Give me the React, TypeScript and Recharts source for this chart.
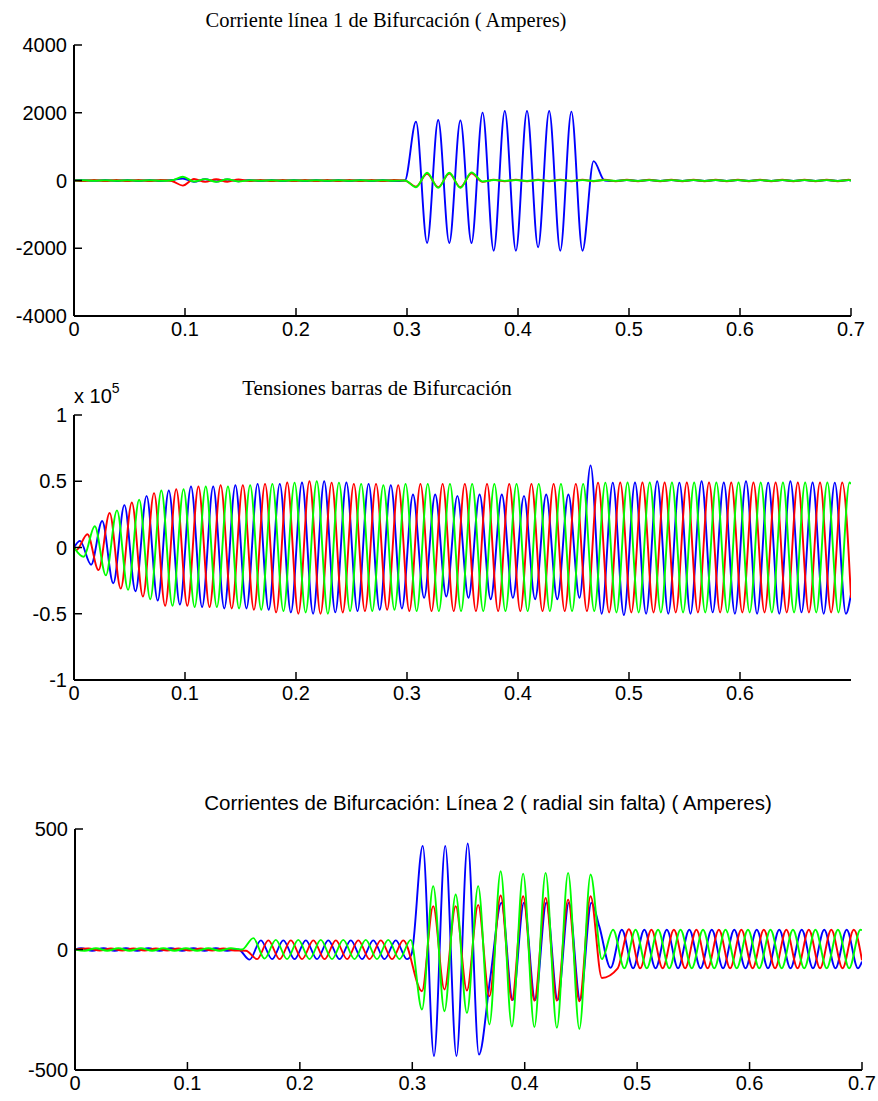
import React from 'react';
import { LineChart, Line, XAxis, YAxis } from 'recharts';

// half period of the 50 Hz waveforms (s): values below are the successive extrema
const HALF = 0.01;

// ---------- Plot 1 : Corriente línea 1 (A) ----------
const I1_T0 = 0.0081;
const i1Blue = [
  12, -12, 14, -14, 15, -15, 15, -15, 15,
  60,
  -40, 35, -30, 30, -25,
  15, -15, 15, -15, 15, -15, 15, -15, 15, -15, 15, -15, 15, -15,
  0,
  1737, -1845, 1786, -1845, 1776, -1845, 2003, -2072, 2052, -2072, 2052, -1973, 2052, -2072, 2033, -2072, 572,
  0, -15, 15, -15, 15, -15, 15, -15, 15, -15, 15, -15, 15, -15, 15, -15, 15, -15, 15, -15, 15, -15, 15,
];
const i1Red = [
  -15, 15, -15, 15, -15, 15, -15, 15, -15,
  -150,
  45, -40, 35, -35, 30,
  -15, 15, -15, 15, -15, 15, -15, 15, -15, 15, -15, 15, -15, 15,
  0,
  -180, 200, -195, 205, -200, 215, -40, 20,
  -20, 20, -20, 20, -20, 20, -20, 20, -20, 20, -20, 20, -20, 20, -20, 20,
  -20, 20, -20, 20, -20, 20, -20, 20, -20, 20, -20, 20, -20, 20, -20, 20,
];
const i1Green = [
  8, -8, 8, -8, 8, -8, 8, -8, 8,
  110,
  -30, 40, -40, 35, -30,
  8, -8, 8, -8, 8, -8, 8, -8, 8, -8, 8, -8, 8, -8,
  0,
  -200, 228, -218, 230, -218, 240, -30, 15,
  -10, 10, -10, 10, -10, 10, -10, 10, -10, 10, -10, 10, -10, 10, -10, 10,
  -10, 10, -10, 10, -10, 10, -10, 10, -10, 10, -10, 10, -10, 10, -10, 10,
];
const i1Ends = [0, 0, 0];
const i1XTicks = [0, 0.1, 0.2, 0.3, 0.4, 0.5, 0.6, 0.7];
const i1YTicks = [-4000, -2000, 0, 2000, 4000];

// ---------- Plot 2 : Tensiones (x 10^5 V) ----------
const V_BLUE_T0 = 0.0054;
const vBlue = [
  0.05, -0.13, 0.2, -0.27, 0.32, -0.33, 0.39, -0.4, 0.43, -0.43,
  0.46, -0.45, 0.46, -0.46, 0.47, -0.46, 0.48, -0.47, 0.48, -0.49,
  0.49, -0.5, 0.5, -0.49, 0.49, -0.48, 0.48, -0.47, 0.47, -0.46,
  0.4, -0.38, 0.4, -0.37, 0.39, -0.38, 0.4, -0.39, 0.4, -0.38,
  0.39, -0.39, 0.4, -0.39, 0.4, -0.38, 0.62, -0.5, 0.49, -0.51,
  0.49, -0.5, 0.5, -0.5, 0.49, -0.5, 0.5, -0.49, 0.49, -0.5,
  0.5, -0.5, 0.49, -0.5, 0.5, -0.49, 0.49, -0.5, 0.49, -0.5,
];
const V_RED_T0 = 0.0021;
const vRed = [
  -0.02, 0.1, -0.17, 0.26, -0.31, 0.34, -0.37, 0.41, -0.44, 0.44,
  -0.44, 0.46, -0.45, 0.47, -0.46, 0.47, -0.47, 0.48, -0.49, 0.49,
  -0.5, 0.5, -0.5, 0.49, -0.49, 0.48, -0.48, 0.48, -0.47, 0.47,
  -0.48, 0.48, -0.48, 0.48, -0.48, 0.48, -0.48, 0.48, -0.48, 0.48,
  -0.48, 0.48, -0.48, 0.48, -0.48, 0.48, -0.48, 0.49, -0.49, 0.49,
  -0.49, 0.49, -0.49, 0.49, -0.49, 0.49, -0.49, 0.49, -0.49, 0.49,
  -0.49, 0.49, -0.49, 0.49, -0.49, 0.49, -0.49, 0.49, -0.49, 0.49,
];
const V_GREEN_T0 = 0.0087;
const vGreen = [
  -0.07, 0.16, -0.21, 0.28, -0.32, 0.36, -0.39, 0.43, -0.44, 0.44,
  -0.45, 0.46, -0.45, 0.46, -0.46, 0.47, -0.47, 0.48, -0.48, 0.49,
  -0.49, 0.5, -0.5, 0.49, -0.48, 0.48, -0.48, 0.47, -0.47, 0.48,
  -0.48, 0.48, -0.48, 0.48, -0.48, 0.48, -0.48, 0.48, -0.48, 0.48,
  -0.48, 0.48, -0.48, 0.48, -0.48, 0.48, -0.48, 0.49, -0.49, 0.49,
  -0.49, 0.49, -0.49, 0.49, -0.49, 0.49, -0.49, 0.49, -0.49, 0.49,
  -0.49, 0.49, -0.49, 0.49, -0.49, 0.49, -0.49, 0.49, -0.49, 0.49,
];
const vEnds = [-0.35, -0.38, 0.48];
const vXTicks = [0, 0.1, 0.2, 0.3, 0.4, 0.5, 0.6];
const vYTicks = [-1, -0.5, 0, 0.5, 1];

// ---------- Plot 3 : Corrientes Línea 2 (A) ----------
const I3_GREEN_T0 = 0.0086;
const i3Green = [
  -5, 5, -5, 5, -5, 5, -5, 5, -5, 5, -5, 5, -5, 5,
  0,
  47, -38, 40, -40, 40, -40, 40, -40, 40, -40, 40, -40, 40, -40, 40,
  -249, 263, -256, 228, -263, 263, -311, 325, -320, 315, -322, 318, -325, 318, -330, 311,
  -40,
  82, -78, 82, -78, 82, -78, 82, -78, 82, -78, 82, -78, 82, -78, 82, -78, 82, -78, 82, -78, 82, -78, 82,
];
const I3_BLUE_T0 = [0.0053, 0.2993, 0.4664];
const i3BluePre = [
  5, -5, 5, -5, 5, -5, 5, -5, 5, -5, 5, -5, 5, -5,
  0, -42,
  38, -40, 38, -40, 38, -40, 38, -40, 38, -40, 38, -40, 38, -40,
];
const i3BlueFault = [-20, 430, -442, 430, -442, 440, -436, -120, 194, -210, 194, -210, 195, -210, 194, -210, 194];
const i3BluePost = [95, -76, 82, -78, 82, -78, 82, -78, 82, -78, 82, -78, 82, -78, 82, -78, 82, -78, 82, -78, 82, -78, 82, -78];
const I3_RED_T0 = [0.012, 0.3086, 0.4827];
const i3RedPre = [
  4, -4, 4, -4, 4, -4, 4, -4, 4, -4, 4, -4, 4, -4,
  -5, -40,
  38, -40, 38, -40, 38, -40, 38, -40, 38, -40, 38, -40, 38,
];
const i3RedFault = [-173, 180, -166, 180, -170, 185, -194, 224, -210, 221, -212, 214, -212, 207, -215, 221, -118];
const i3RedPost = [-78, 84, -78, 82, -78, 82, -78, 82, -78, 82, -78, 82, -78, 82, -78, 82, -78, 82, -78, 82, -78, 82];
const i3Ends = [-50, -45, 80];
const i3XTicks = [0, 0.1, 0.2, 0.3, 0.4, 0.5, 0.6, 0.7];
const i3YTicks = [-500, 0, 500];

// ---------- helpers ----------
type Pt = { t: number; v: number };
const seg = (t0: number, vals: number[]): Pt[] =>
  vals.map((v, i) => ({ t: Math.round((t0 + i * HALF) * 10000) / 10000, v }));
const build = (parts: Pt[][], end: number): Pt[] => [{ t: 0, v: 0 }, ...parts.flat(), { t: 0.7, v: end }];

const BLUE = '#0000ff';
const RED = '#ff0000';
const GREEN = '#00ff00';

const p1Series = [
  { color: BLUE, data: build([seg(I1_T0, i1Blue)], i1Ends[0]) },
  { color: RED, data: build([seg(I1_T0, i1Red)], i1Ends[1]) },
  { color: GREEN, data: build([seg(I1_T0, i1Green)], i1Ends[2]) },
];
const p2Series = [
  { color: BLUE, data: build([seg(V_BLUE_T0, vBlue)], vEnds[0]) },
  { color: RED, data: build([seg(V_RED_T0, vRed)], vEnds[1]) },
  { color: GREEN, data: build([seg(V_GREEN_T0, vGreen)], vEnds[2]) },
];
const p3Series = [
  {
    color: BLUE,
    data: build([seg(I3_BLUE_T0[0], i3BluePre), seg(I3_BLUE_T0[1], i3BlueFault), seg(I3_BLUE_T0[2], i3BluePost)], i3Ends[0]),
  },
  {
    color: RED,
    data: build([seg(I3_RED_T0[0], i3RedPre), seg(I3_RED_T0[1], i3RedFault), seg(I3_RED_T0[2], i3RedPost)], i3Ends[1]),
  },
  { color: GREEN, data: build([seg(I3_GREEN_T0, i3Green)], i3Ends[2]) },
];

const SANS = "'Liberation Sans', Arial, Helvetica, sans-serif";
const SERIF = "'Liberation Serif', 'Times New Roman', serif";
const tickStyle = { fontFamily: SANS, fontSize: 20, fill: '#000' };
const axisLine = { stroke: '#000', strokeWidth: 2 };
const tickLine = { stroke: '#000', strokeWidth: 1.5 };
const TICK = 8;

type PanelProps = {
  top: number;
  height: number;
  plotTop: number;
  plotBottom: number;
  plotLeft: number;
  plotRight: number;
  yDomain: [number, number];
  yTicks: number[];
  xTicks: number[];
  series: { color: string; data: Pt[] }[];
};

function Panel(p: PanelProps) {
  const xH = 30;
  const margin = {
    top: p.plotTop - p.top,
    bottom: p.height - xH - (p.plotBottom - p.top),
    left: 0,
    right: 878 - p.plotRight,
  };
  return (
    <div style={{ position: 'absolute', left: 0, top: p.top }}>
      <LineChart width={878} height={p.height} margin={margin}>
        <XAxis
          xAxisId="b"
          dataKey="t"
          type="number"
          domain={[0, 0.7]}
          ticks={p.xTicks}
          interval={0}
          allowDataOverflow
          height={xH}
          tickSize={-TICK}
          tickMargin={TICK + 6}
          axisLine={axisLine}
          tickLine={tickLine}
          tick={tickStyle}
        />
        <XAxis
          xAxisId="t"
          orientation="top"
          dataKey="t"
          type="number"
          domain={[0, 0.7]}
          ticks={p.xTicks}
          interval={0}
          height={0}
          tickSize={-TICK}
          axisLine={axisLine}
          tickLine={tickLine}
          tick={false}
        />
        <YAxis
          yAxisId="l"
          type="number"
          domain={p.yDomain}
          ticks={p.yTicks}
          interval={0}
          allowDataOverflow
          width={p.plotLeft}
          tickSize={-TICK}
          tickMargin={TICK + 7}
          axisLine={axisLine}
          tickLine={tickLine}
          tick={tickStyle}
        />
        <YAxis
          yAxisId="r"
          orientation="right"
          type="number"
          domain={p.yDomain}
          ticks={p.yTicks}
          interval={0}
          width={0}
          tickSize={-TICK}
          axisLine={axisLine}
          tickLine={tickLine}
          tick={false}
        />
        {p.series.map((s, i) => (
          <Line
            key={i}
            xAxisId="b"
            yAxisId="l"
            data={s.data}
            dataKey="v"
            type="monotone"
            stroke={s.color}
            strokeWidth={1.9}
            dot={false}
            activeDot={false}
            isAnimationActive={false}
          />
        ))}
      </LineChart>
    </div>
  );
}

const Title = ({ x, y, text, font, size }: { x: number; y: number; text: string; font: string; size: number }) => (
  <div
    style={{
      position: 'absolute',
      left: x,
      top: y,
      transform: 'translate(-50%, -50%)',
      whiteSpace: 'nowrap',
      fontFamily: font,
      fontSize: size,
      color: '#000',
      lineHeight: 1,
    }}
  >
    {text}
  </div>
);

export default function App() {
  return (
    <div style={{ position: 'relative', width: 878, height: 1101, background: '#fff', overflow: 'hidden' }}>
      <style>{'body{margin:0;background:#fff}'}</style>
      <Panel
        top={0}
        height={350}
        plotTop={45}
        plotBottom={316}
        plotLeft={74}
        plotRight={851}
        yDomain={[-4000, 4000]}
        yTicks={i1YTicks}
        xTicks={i1XTicks}
        series={p1Series}
      />
      <Panel
        top={360}
        height={354}
        plotTop={415}
        plotBottom={680}
        plotLeft={74}
        plotRight={851}
        yDomain={[-1, 1]}
        yTicks={vYTicks}
        xTicks={vXTicks}
        series={p2Series}
      />
      <Panel
        top={790}
        height={311}
        plotTop={829}
        plotBottom={1070}
        plotLeft={75}
        plotRight={862}
        yDomain={[-500, 500]}
        yTicks={i3YTicks}
        xTicks={i3XTicks}
        series={p3Series}
      />
      <Title x={386} y={20} text="Corriente línea 1 de Bifurcación ( Amperes)" font={SERIF} size={20.5} />
      <Title x={377} y={388} text="Tensiones barras de Bifurcación" font={SERIF} size={21} />
      <Title x={488} y={803} text="Corrientes de Bifurcación: Línea 2 ( radial sin falta) ( Amperes)" font={SANS} size={20.5} />
      <div style={{ position: 'absolute', left: 74, top: 386, fontFamily: SANS, fontSize: 20, lineHeight: 1, whiteSpace: 'nowrap' }}>
        x 10<span style={{ position: 'relative', top: -10, fontSize: 14 }}>5</span>
      </div>
    </div>
  );
}
